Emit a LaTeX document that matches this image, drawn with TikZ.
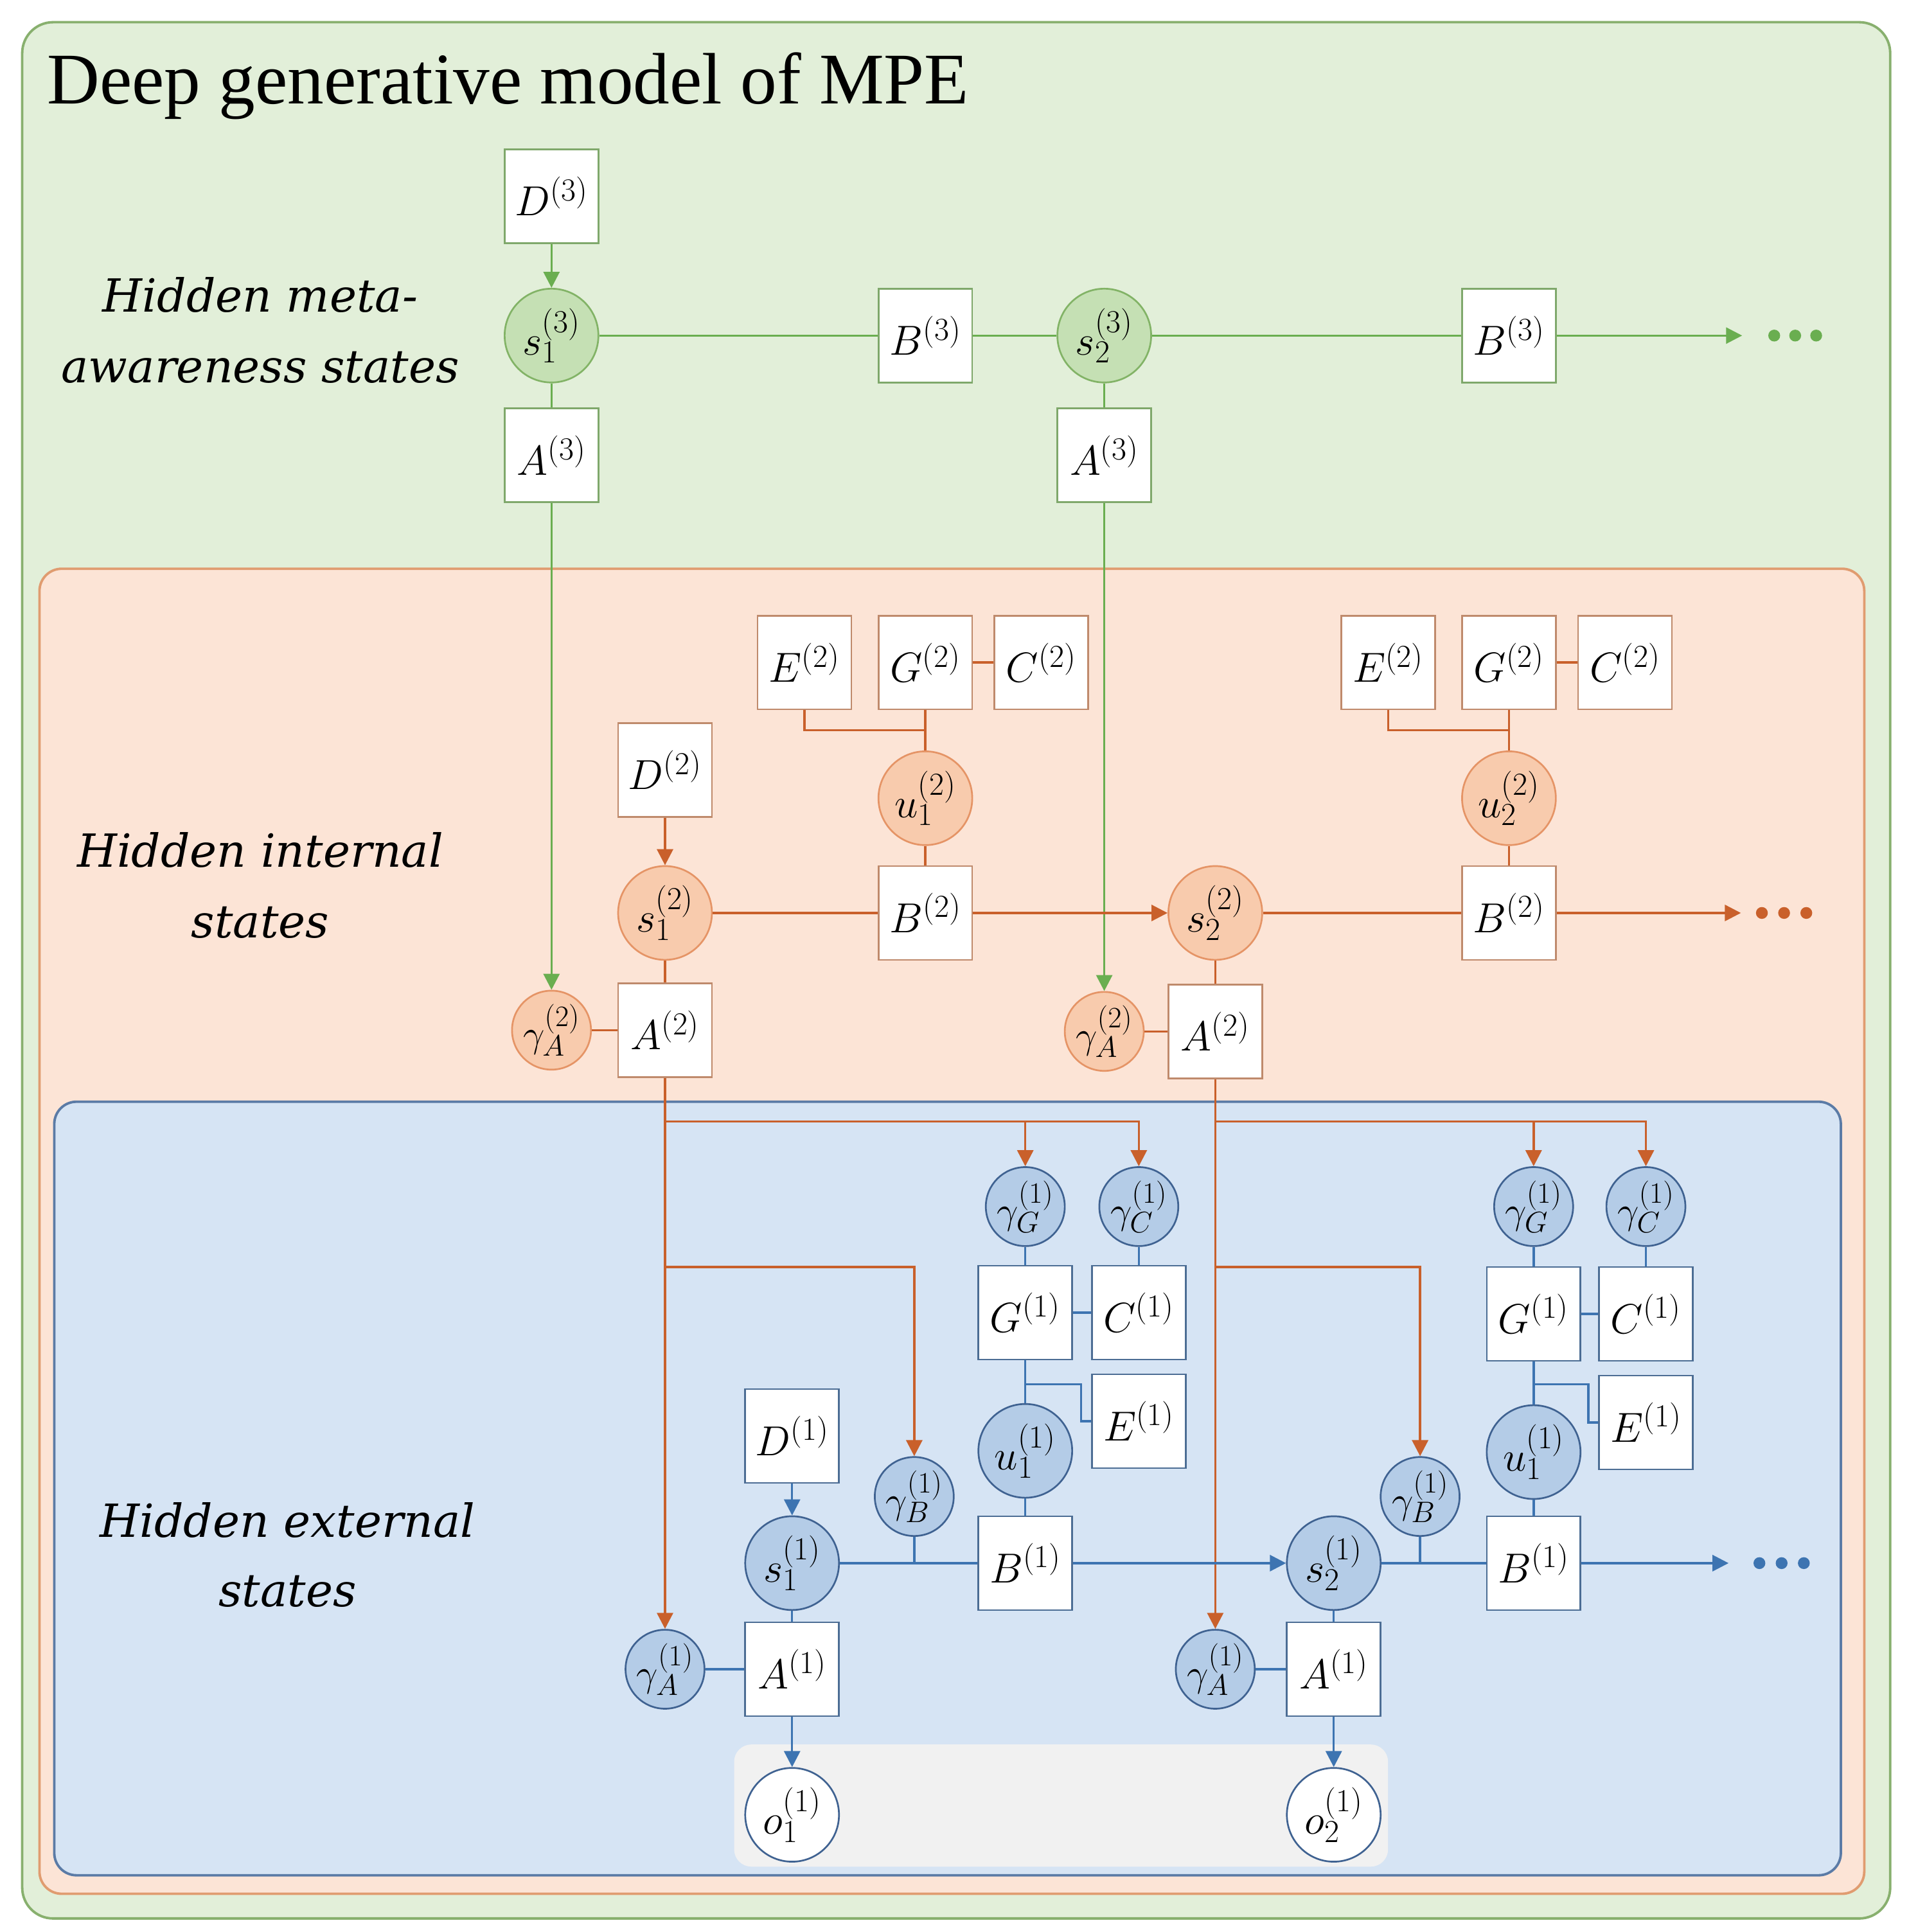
\RequirePackage{fix-cm}
\documentclass[tikz,border=0pt]{standalone}
\usepackage{fontspec}
\setmainfont{Liberation Serif}
\newfontfamily\lblfont{DejaVu Serif}
\usetikzlibrary{arrows.meta}
\DeclareMathSizes{34}{34}{26}{20}
\DeclareMathSizes{31}{31}{24}{18}
\definecolor{gfill}{HTML}{E2EFD9}
\definecolor{gedge}{HTML}{88B06E}
\definecolor{gcirc}{HTML}{C5E0B4}
\definecolor{gcircedge}{HTML}{82B366}
\definecolor{gline}{HTML}{6AAE50}
\definecolor{gbox}{HTML}{7FA86B}
\definecolor{ofill}{HTML}{FCE4D6}
\definecolor{oedge}{HTML}{E09C70}
\definecolor{ocirc}{HTML}{F8CBAD}
\definecolor{ocircedge}{HTML}{E59466}
\definecolor{oline}{HTML}{C9602B}
\definecolor{obox}{HTML}{BF8A6C}
\definecolor{bfill}{HTML}{D6E4F4}
\definecolor{bedge}{HTML}{5B7BA6}
\definecolor{bcirc}{HTML}{B4CCE7}
\definecolor{bcircedge}{HTML}{3F6291}
\definecolor{bline}{HTML}{3D74B1}
\definecolor{bboxc}{HTML}{4C6D94}
\definecolor{grayfill}{HTML}{F1F1F1}
\newcommand{\mbfont}{\fontsize{34}{40}\selectfont}
\newcommand{\mgfont}{\fontsize{31}{36}\selectfont}
\newcommand{\lbfont}{\lblfont\itshape\fontsize{37}{44}\selectfont}
\tikzset{
  bx/.style={rectangle, fill=white, minimum width=76, minimum height=76, inner sep=0pt, line width=1.4pt, font=\mbfont},
  bx3/.style={bx, draw=gbox},
  bx2/.style={bx, draw=obox},
  bx1/.style={bx, draw=bboxc},
  st/.style={circle, minimum size=76, inner sep=0pt, line width=1.4pt, font=\mbfont},
  st3/.style={st, draw=gcircedge, fill=gcirc},
  st2/.style={st, draw=ocircedge, fill=ocirc},
  st1/.style={st, draw=bcircedge, fill=bcirc},
  obs/.style={st, draw=bcircedge, fill=white},
  gm2/.style={circle, minimum size=64, inner sep=0pt, line width=1.4pt, font=\mgfont, draw=ocircedge, fill=ocirc},
  gm1/.style={circle, minimum size=64, inner sep=0pt, line width=1.4pt, font=\mgfont, draw=bcircedge, fill=bcirc},
  ln3/.style={draw=gline, line width=1.8pt},
  ln2/.style={draw=oline, line width=1.8pt},
  ln1/.style={draw=bline, line width=1.8pt},
  ar3/.style={ln3, -{Triangle[length=13pt,width=13pt]}},
  ar2/.style={ln2, -{Triangle[length=13pt,width=13pt]}},
  ar1/.style={ln1, -{Triangle[length=13pt,width=13pt]}},
  lbl/.style={anchor=base, inner sep=0pt, font=\lbfont}
}
\begin{document}
\begin{tikzpicture}[x=1pt,y=-1pt]
\useasboundingbox (0,0) rectangle (1547,1566);
\fill[white] (0,0) rectangle (1547,1566);
% backgrounds
\draw[rounded corners=25pt, fill=gfill, draw=gedge, line width=2pt] (18,18) rectangle (1532,1555);
\draw[rounded corners=18pt, fill=ofill, draw=oedge, line width=2pt] (32,461) rectangle (1511,1535);
\draw[rounded corners=18pt, fill=bfill, draw=bedge, line width=2pt] (44,893) rectangle (1492,1520);
\fill[rounded corners=14pt, grayfill] (595,1414) rectangle (1125,1513);

% title and labels
\node[anchor=base west, inner sep=0pt, font=\fontsize{59}{61}\selectfont] (title) at (38,84) {Deep generative model of MPE};
\node[lbl] (lab3a) at (211,253) {Hidden meta-};
\node[lbl] (lab3b) at (211,310) {awareness states};
\node[lbl] (lab2a) at (211,703) {Hidden internal};
\node[lbl] (lab2b) at (211,760) {states};
\node[lbl] (lab1a) at (233,1246) {Hidden external};
\node[lbl] (lab1b) at (233,1302) {states};

% level 3
\node[bx3] (D3) at (447,159) {$D^{(3)}$};
\node[st3] (s13) at (447,272) {$s_1^{(3)}$};
\node[bx3] (A3a) at (447,369) {$A^{(3)}$};
\node[bx3] (B3a) at (750,272) {$B^{(3)}$};
\node[st3] (s23) at (895,272) {$s_2^{(3)}$};
\node[bx3] (A3b) at (895,369) {$A^{(3)}$};
\node[bx3] (B3b) at (1223,272) {$B^{(3)}$};
\coordinate (end3) at (1412,272);

% level 2
\node[bx2] (E2a) at (652,537) {$E^{(2)}$};
\node[bx2] (G2a) at (750,537) {$G^{(2)}$};
\node[bx2] (C2a) at (844,537) {$C^{(2)}$};
\node[st2] (u12) at (750,647) {$u_1^{(2)}$};
\node[bx2] (B2a) at (750,740) {$B^{(2)}$};
\node[bx2] (D2) at (539,624) {$D^{(2)}$};
\node[st2] (s12) at (539,740) {$s_1^{(2)}$};
\node[bx2] (A2a) at (539,835) {$A^{(2)}$};
\node[gm2] (gA2a) at (447,835) {$\gamma_A^{(2)}$};
\node[bx2] (E2b) at (1125,537) {$E^{(2)}$};
\node[bx2] (G2b) at (1223,537) {$G^{(2)}$};
\node[bx2] (C2b) at (1317,537) {$C^{(2)}$};
\node[st2] (u22) at (1223,647) {$u_2^{(2)}$};
\node[bx2] (B2b) at (1223,740) {$B^{(2)}$};
\node[st2] (s22) at (985,740) {$s_2^{(2)}$};
\node[bx2] (A2b) at (985,836) {$A^{(2)}$};
\node[gm2] (gA2b) at (895,836) {$\gamma_A^{(2)}$};
\coordinate (end2) at (1411,740);
\coordinate (j2a) at (750,592);
\coordinate (j2b) at (1223,592);

% level 1, column a
\node[gm1] (gG1a) at (831,978) {$\gamma_G^{(1)}$};
\node[gm1] (gC1a) at (923,978) {$\gamma_C^{(1)}$};
\node[bx1] (G1a) at (831,1064) {$G^{(1)}$};
\node[bx1] (C1a) at (923,1064) {$C^{(1)}$};
\node[bx1] (E1a) at (923,1152) {$E^{(1)}$};
\node[st1] (u11a) at (831,1176) {$u_1^{(1)}$};
\node[bx1] (B1a) at (831,1267) {$B^{(1)}$};
\node[bx1] (D1) at (642,1164) {$D^{(1)}$};
\node[st1] (s11) at (642,1267) {$s_1^{(1)}$};
\node[bx1] (A1a) at (642,1353) {$A^{(1)}$};
\node[gm1] (gA1a) at (539,1353) {$\gamma_A^{(1)}$};
\node[obs] (o1) at (642,1471) {$o_1^{(1)}$};
\node[gm1] (gB1a) at (741,1213) {$\gamma_B^{(1)}$};
\coordinate (k1a) at (831,1122);

% level 1, column b
\node[gm1] (gG1b) at (1243,978) {$\gamma_G^{(1)}$};
\node[gm1] (gC1b) at (1334,978) {$\gamma_C^{(1)}$};
\node[bx1] (G1b) at (1243,1065) {$G^{(1)}$};
\node[bx1] (C1b) at (1334,1065) {$C^{(1)}$};
\node[bx1] (E1b) at (1334,1153) {$E^{(1)}$};
\node[st1] (u11b) at (1243,1177) {$u_1^{(1)}$};
\node[bx1] (B1b) at (1243,1267) {$B^{(1)}$};
\node[st1] (s21) at (1081,1267) {$s_2^{(1)}$};
\node[bx1] (A1b) at (1081,1353) {$A^{(1)}$};
\node[gm1] (gA1b) at (985,1353) {$\gamma_A^{(1)}$};
\node[obs] (o2) at (1081,1471) {$o_2^{(1)}$};
\node[gm1] (gB1b) at (1151,1213) {$\gamma_B^{(1)}$};
\coordinate (k1b) at (1243,1122);
\coordinate (end1) at (1401,1267);

% level 3 connectors
\draw[ar3] (D3) -- (s13);
\draw[ln3] (s13) -- (A3a);
\draw[ln3] (s13) -- (B3a);
\draw[ln3] (B3a) -- (s23);
\draw[ln3] (s23) -- (A3b);
\draw[ln3] (s23) -- (B3b);
\draw[ar3] (B3b) -- (end3);
\draw[ar3] (A3a) -- (gA2a);
\draw[ar3] (A3b) -- (gA2b);
\foreach \x in {1438,1455,1472} \fill[gline] (\x,272) circle (4.8);

% level 2 connectors
\draw[ar2] (D2) -- (s12);
\draw[ln2] (s12) -- (A2a);
\draw[ln2] (gA2a) -- (A2a);
\draw[ln2] (s12) -- (B2a);
\draw[ar2] (B2a) -- (s22);
\draw[ln2] (s22) -- (A2b);
\draw[ln2] (gA2b) -- (A2b);
\draw[ln2] (s22) -- (B2b);
\draw[ar2] (B2b) -- (end2);
\draw[ln2] (G2a) -- (u12);
\draw[ln2] (u12) -- (B2a);
\draw[ln2] (G2a) -- (C2a);
\draw[ln2] (E2a.south) |- (j2a);
\draw[ln2] (G2b) -- (u22);
\draw[ln2] (u22) -- (B2b);
\draw[ln2] (G2b) -- (C2b);
\draw[ln2] (E2b.south) |- (j2b);
\foreach \x in {1428,1446,1464} \fill[oline] (\x,740) circle (4.8);

% level 2 -> level 1 (orange)
\coordinate (ba1) at (539,909);
\coordinate (bb1) at (539,1027);
\coordinate (ba2) at (985,909);
\coordinate (bb2) at (985,1027);
\draw[ar2] (A2a) -- (gA1a);
\draw[ar2] (ba1) -| (gC1a);
\draw[ar2] (gG1a |- ba1) -- (gG1a);
\draw[ar2] (bb1) -| (gB1a);
\draw[ar2] (A2b) -- (gA1b);
\draw[ar2] (ba2) -| (gC1b);
\draw[ar2] (gG1b |- ba2) -- (gG1b);
\draw[ar2] (bb2) -| (gB1b);

% level 1 connectors
\draw[ar1] (D1) -- (s11);
\draw[ln1] (s11) -- (A1a);
\draw[ar1] (A1a) -- (o1);
\draw[ln1] (gA1a) -- (A1a);
\draw[ln1] (s11) -- (B1a);
\draw[ln1] (gB1a) -- (gB1a |- s11);
\draw[ar1] (B1a) -- (s21);
\draw[ln1] (gG1a) -- (G1a);
\draw[ln1] (gC1a) -- (C1a);
\draw[ln1] (G1a) -- (C1a);
\draw[ln1] (G1a) -- (u11a);
\draw[ln1] (u11a) -- (B1a);
\draw[ln1] (k1a) -| ([xshift=-8pt]E1a.west) -- (E1a.west);

\draw[ln1] (s21) -- (A1b);
\draw[ar1] (A1b) -- (o2);
\draw[ln1] (gA1b) -- (A1b);
\draw[ln1] (s21) -- (B1b);
\draw[ln1] (gB1b) -- (gB1b |- s21);
\draw[ar1] (B1b) -- (end1);
\draw[ln1] (gG1b) -- (G1b);
\draw[ln1] (gC1b) -- (C1b);
\draw[ln1] (G1b) -- (C1b);
\draw[ln1] (G1b) -- (u11b);
\draw[ln1] (u11b) -- (B1b);
\draw[ln1] (k1b) -| ([xshift=-8pt]E1b.west) -- (E1b.west);
\foreach \x in {1426,1444,1462} \fill[bline] (\x,1267) circle (4.8);
\end{tikzpicture}
\end{document}
